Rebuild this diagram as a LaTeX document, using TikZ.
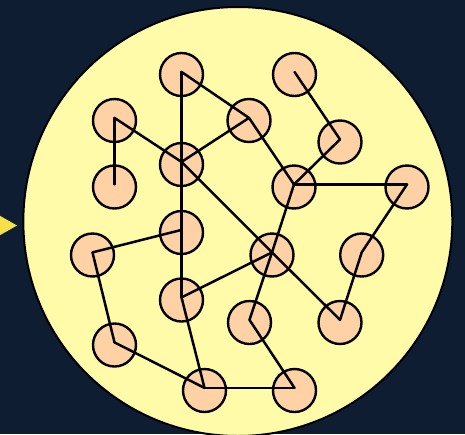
\documentclass[tikz,border=0pt]{standalone}
\definecolor{bgnavy}{HTML}{0F1D33}
\definecolor{bigyellow}{HTML}{FFFBA8}
\definecolor{peach}{HTML}{FFD2A6}
\definecolor{arrowyellow}{HTML}{F5E04A}
\begin{document}
\begin{tikzpicture}[x=1pt,y=-1pt,
  vert/.style={circle,draw=black,fill=peach,line width=2.4pt,minimum size=43pt,inner sep=0pt},
  edge/.style={draw=black,line width=2.5pt,line cap=round,line join=round}]
\fill[bgnavy] (0,0) rectangle (465,434);
\useasboundingbox (0,0) rectangle (465,434);
\fill[arrowyellow] (-5,213) -- (17,225.5) -- (-5,238) -- cycle;
\begin{scope}
\clip (0,0) rectangle (465,434);
\draw[fill=bigyellow,line width=2pt] (237.8,221.5) circle (214.5);
\end{scope}
\node[vert] (A) at (181.5,74.5) {};
\node[vert] (B) at (294.5,74.5) {};
\node[vert] (C) at (114.5,120.5) {};
\node[vert] (D) at (249,120.5) {};
\node[vert] (E) at (340,142) {};
\node[vert] (F) at (181.5,164.5) {};
\node[vert] (G) at (114.5,187) {};
\node[vert] (H) at (294,187) {};
\node[vert] (I) at (407,187) {};
\node[vert] (J) at (181.5,232.5) {};
\node[vert] (K) at (92.5,255) {};
\node[vert] (L) at (272,255) {};
\node[vert] (M) at (361.7,255) {};
\node[vert] (N) at (181.5,300) {};
\node[vert] (O) at (249.5,322.5) {};
\node[vert] (P) at (340,322.5) {};
\node[vert] (Q) at (114.5,345) {};
\node[vert] (R) at (204.5,390.5) {};
\node[vert] (S) at (294.5,390.5) {};
\begin{scope}[transform canvas={yshift=2.6pt}]
\draw[edge] (A.center) -- (F.center) -- (J.center) -- (N.center);
\draw[edge] (A.center) -- (D.center);
\draw[edge] (C.center) -- (F.center);
\draw[edge] (C.center) -- (G.center);
\draw[edge] (F.center) -- (D.center);
\draw[edge] (D.center) -- (H.center);
\draw[edge] (B.center) -- (E.center);
\draw[edge] (E.center) -- (H.center);
\draw[edge] (H.center) -- (I.center);
\draw[edge] (I.center) -- (M.center);
\draw[edge] (M.center) -- (P.center);
\draw[edge] (F.center) -- (L.center);
\draw[edge] (L.center) -- (P.center);
\draw[edge] (H.center) -- (L.center);
\draw[edge] (L.center) -- (O.center);
\draw[edge] (L.center) -- (N.center);
\draw[edge] (J.center) -- (K.center);
\draw[edge] (K.center) -- (Q.center);
\draw[edge] (Q.center) -- (R.center);
\draw[edge] (N.center) -- (R.center);
\draw[edge] (R.center) -- (S.center);
\draw[edge] (O.center) -- (S.center);
\end{scope}
\end{tikzpicture}
\end{document}
